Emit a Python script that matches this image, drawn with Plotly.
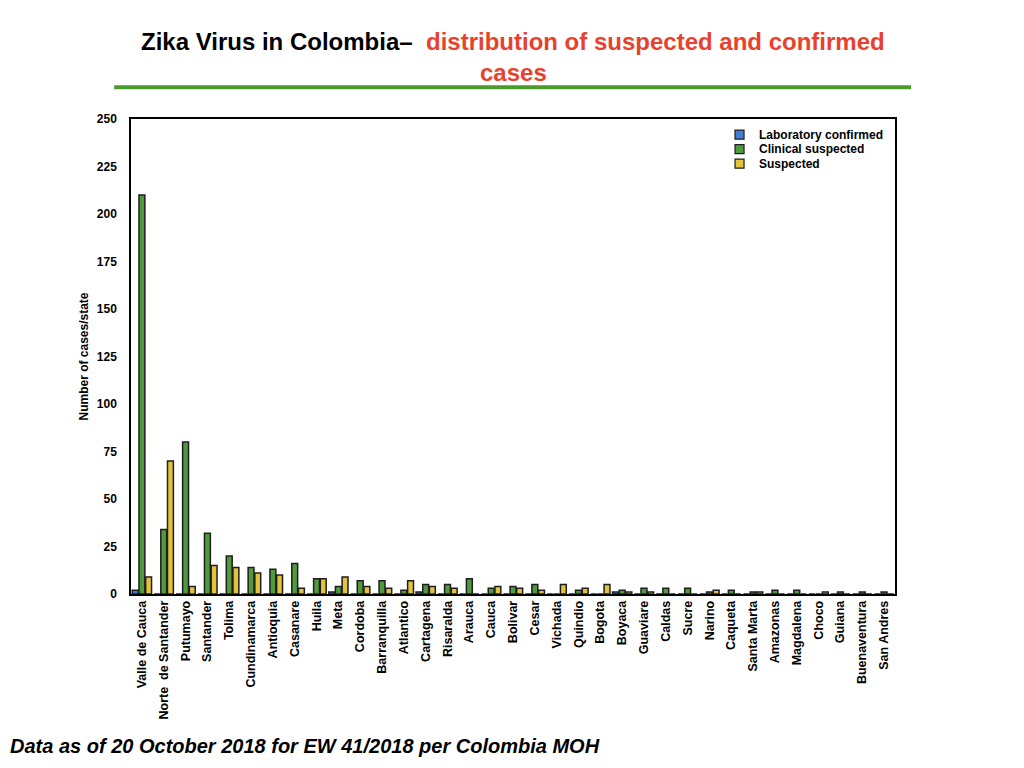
import plotly.graph_objs as go #plotting data

#states in the order of the chart
states = ['Valle de Cauca', 'Norte  de Santander', 'Putumayo', 'Santander', 'Tolima',
          'Cundinamarca', 'Antioquia', 'Casanare', 'Huila', 'Meta', 'Cordoba',
          'Barranquilla', 'Atlantico', 'Cartagena', 'Risaralda', 'Arauca', 'Cauca',
          'Bolivar', 'Cesar', 'Vichada', 'Quindio', 'Bogota', 'Boyaca', 'Guaviare',
          'Caldas', 'Sucre', 'Narino', 'Caqueta', 'Santa Marta', 'Amazonas',
          'Magdalena', 'Choco', 'Guiana', 'Buenaventura', 'San Andres']

lab_confirmed = [2, 0, 0, 0, 0, 0, 0, 0, 0, 1, 0, 0, 0, 1, 0, 0, 0, 0, 0, 0,
                 0, 0, 1, 0, 0, 0, 0, 0, 0, 0, 0, 0, 0, 0, 0]
clinical_suspected = [210, 34, 80, 32, 20, 14, 13, 16, 8, 4, 7, 7, 2, 5, 5, 8, 3, 4, 5, 0,
                      2, 0, 2, 3, 3, 3, 1, 2, 1, 2, 2, 0, 1, 1, 1]
suspected = [9, 70, 4, 15, 14, 11, 10, 3, 8, 9, 4, 3, 7, 4, 3, 0, 4, 3, 2, 5,
             3, 5, 1, 1, 0, 0, 2, 0, 1, 0, 0, 1, 0, 0, 0]

series_names = ['Laboratory confirmed', 'Clinical suspected', 'Suspected']
series_colors = ['#3f7fd6', '#4f9a3a', '#e3c33e']

y_ticks = [0, 25, 50, 75, 100, 125, 150, 175, 200, 225, 250]

FONT = 'Liberation Sans, Arial, Helvetica, sans-serif'
edge = dict(color='#1e1e1e', width=1.5)

fig = go.Figure()
for vals, name, col in zip([lab_confirmed, clinical_suspected, suspected], series_names, series_colors):
    fig.add_trace(go.Bar(x=states, y=vals, name=name, marker=dict(color=col, line=edge)))

fig.update_layout(
    width=1024, height=768,
    margin=dict(l=123, r=137, t=111, b=182, autoexpand=False), #page body adds ~7px
    paper_bgcolor='white', plot_bgcolor='white',
    font=dict(family=FONT, color='black'),
    barmode='group', bargap=0.08, bargroupgap=0.12,
    showlegend=False,
)

fig.update_xaxes(showline=True, linecolor='black', linewidth=1.5, mirror=True,
                 ticks='', tickangle=-90, automargin=False,
                 tickfont=dict(size=12.5, family=FONT, weight='bold'))
fig.update_yaxes(range=[0, 250], tickvals=y_ticks, showgrid=False, zeroline=False,
                 showline=True, linecolor='black', linewidth=1.5, mirror=True,
                 ticks='', automargin=False, ticklabelstandoff=10,
                 tickfont=dict(size=12, family=FONT, weight='bold'),
                 title=dict(text='<b>Number of cases/state</b>', font=dict(size=12), standoff=6))

#legend drawn by hand so the rows sit tight like the original
for i, (name, col) in enumerate(zip(series_names, series_colors)):
    yc = 0.967 - i * 0.0305
    fig.add_shape(type='rect', xref='paper', yref='paper', x0=0.7906, x1=0.8024,
                  y0=yc - 0.0095, y1=yc + 0.0095, fillcolor=col, line=dict(color='#1e1e1e', width=1.2))
    fig.add_annotation(xref='paper', yref='paper', x=0.8194, y=yc, xanchor='left', yanchor='middle',
                       text='<b>' + name + '</b>', showarrow=False, font=dict(size=12, family=FONT))

#title in two colours
fig.add_annotation(xref='paper', yref='paper', x=0.5, y=1.164, xanchor='center', yanchor='middle',
                   text="<b>Zika Virus in Colombia–  <span style='color:#e8412c'>distribution of suspected and confirmed</span></b>",
                   showarrow=False, font=dict(size=24, family=FONT, color='black'))
fig.add_annotation(xref='paper', yref='paper', x=0.5, y=1.097, xanchor='center', yanchor='middle',
                   text='<b>cases</b>', showarrow=False, font=dict(size=24, family=FONT, color='#e8412c'))
fig.add_shape(type='line', xref='paper', yref='paper', x0=-0.022, x1=1.021, y0=1.067, y1=1.067,
              line=dict(color='#4a9a2e', width=4))

#footnote
fig.add_annotation(xref='paper', yref='paper', x=-0.1609, y=-0.32, xanchor='left', yanchor='middle',
                   text='<b><i>Data as of 20 October 2018 for EW 41/2018 per Colombia MOH</i></b>',
                   showarrow=False, font=dict(size=20, family=FONT, color='black'))

fig.write_html("out.html")
